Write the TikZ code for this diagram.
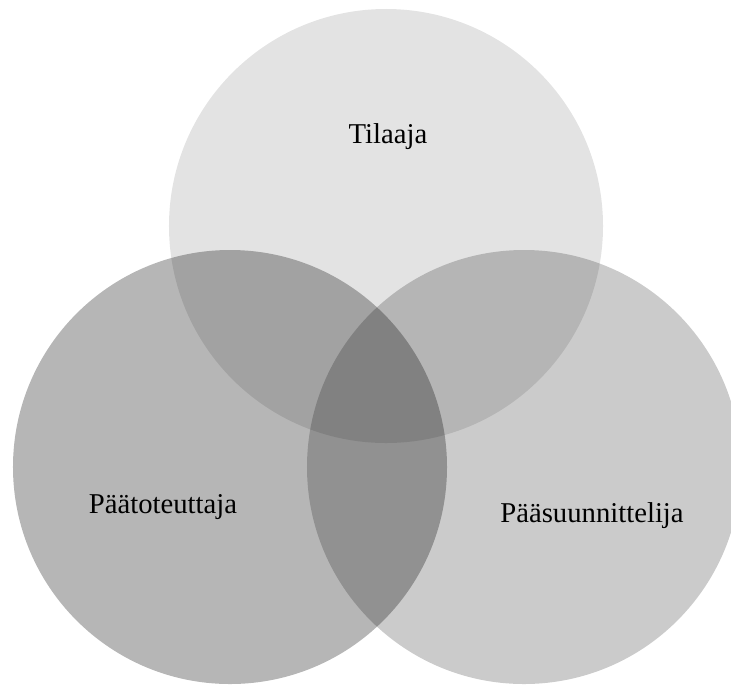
\documentclass[tikz,border=0pt]{standalone}
\usepackage{fontspec}
\setmainfont{Liberation Serif}
\usetikzlibrary{positioning}

\begin{document}
\begin{tikzpicture}[x=0.03cm,y=-0.03cm,
  setfill/.style={fill=black,fill opacity=#1},
  lbl/.style={font=\fontsize{24.5}{28}\selectfont,text=black}]
  \useasboundingbox (0,0) rectangle (731,687);
  \clip (0,0) rectangle (731,687);
  % the three circles
  \foreach \x/\y/\o in {386/226/0.11,230/467/0.286,524/467/0.204}{
    \fill[setfill=\o] (\x,\y) circle (6.51cm);
  }
  \node[lbl] (tilaaja) at (388,137) {Tilaaja};
  \node[lbl] (toteuttaja) at (163,507) {Päätoteuttaja};
  \node[lbl] (suunnittelija) at (592,516) {Pääsuunnittelija};
\end{tikzpicture}
\end{document}
